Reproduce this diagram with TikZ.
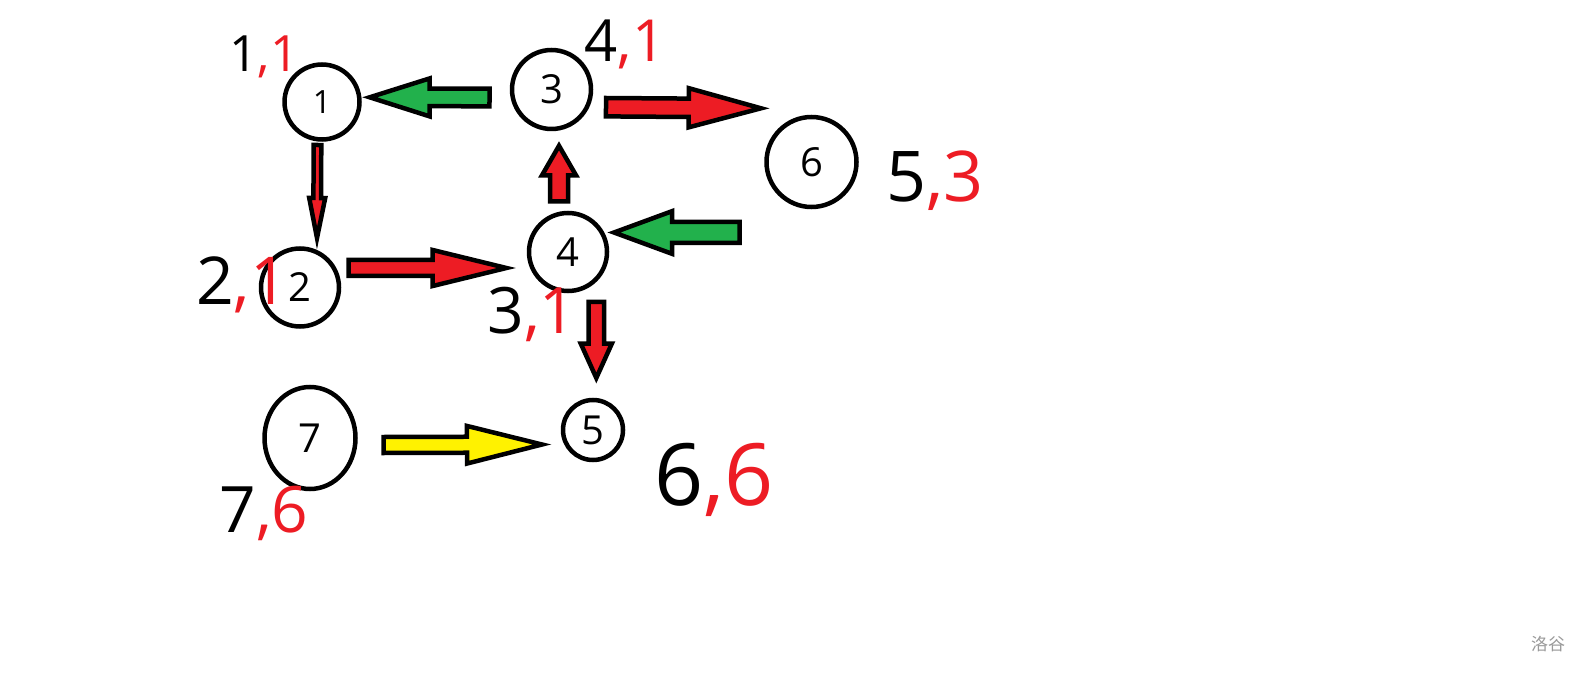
\documentclass[tikz,border=0pt]{standalone}
\usepackage{fontspec}
\setmainfont{Open Sans}
\newfontfamily\cjk{Noto Sans CJK SC}
\usetikzlibrary{calc,shapes.geometric}
\definecolor{pred}{HTML}{ED1C24}
\definecolor{pgreen}{HTML}{22B14C}
\definecolor{pyellow}{HTML}{FFF200}
\definecolor{wmgray}{HTML}{9A9A9A}
% #1 tail, #2 tip, #3 half shaft width, #4 half head width, #5 head length, #6 fill
\newcommand\blockarr[6]{%
  \path let \p1=(#1), \p2=(#2), \n1={atan2(\y2-\y1,\x2-\x1)}, \n2={veclen(\x2-\x1,\y2-\y1)} in
    \pgfextra{\xdef\baang{\n1}\xdef\balen{\n2}};
  \draw[blockarrow, fill=#6, shift={(#1)}, rotate=\baang]
    (0,-#3) -- ({\balen-#5},-#3) -- ({\balen-#5},-#4) -- (\balen,0)
    -- ({\balen-#5},#4) -- ({\balen-#5},#3) -- (0,#3) -- cycle;
}
\newcommand\lowdigit[2]{\raisebox{-#1pt}{#2}}
\begin{document}
\begin{tikzpicture}[x=1pt,y=1pt,
  vtx/.style={circle, draw, line width=4.5pt, inner sep=0pt, outer sep=0pt, font=\fontsize{40}{40}\selectfont},
  blockarrow/.style={draw=black, line width=4.5pt, line join=miter},
  hand/.style={anchor=base, inner sep=0pt, font=\fontsize{#1}{#1}\selectfont},
]
\fill[white] (0,0) rectangle (1594,-684);
\useasboundingbox (0,0) rectangle (1594,-684);

% vertices
\node[vtx, minimum size=75, font=\fontsize{32}{32}\selectfont] (n1) at (322,-102) {\lowdigit{7}{1}};
\node[vtx, minimum size=79] (n3) at (551.5,-89.5) {\lowdigit{0}{3}};
\node[vtx, minimum size=78] (n2) at (300,-287.5) {\lowdigit{3}{2}};
\node[vtx, minimum size=78] (n4) at (568,-252) {\lowdigit{3}{4}};
\node[vtx, minimum size=90] (n6) at (811.5,-162) {\lowdigit{4}{6}};
\node[vtx, ellipse, minimum width=91, minimum height=102] (n7) at (310,-438) {\lowdigit{3}{7}};
\node[vtx, minimum size=60] (n5) at (593,-430) {\lowdigit{2}{5}};
\coordinate (g4) at (739.7,-232.5);

% block arrows
\blockarr{$(n3)+(-62,-8)$}{$(n1)+(47.7,4.7)$}{8.8}{19}{60}{pgreen}
\blockarr{$(n1)+(-4.5,-43)$}{$(n2)+(17,49.5)$}{3.8}{8}{40}{pred}
\blockarr{$(n2)+(48.7,19.5)$}{$(n4)+(-61.6,-16)$}{8}{18}{73.7}{pred}
\blockarr{$(n4)+(-9,50.7)$}{$(n3)+(7.5,-56.3)$}{9}{17}{29.5}{pred}
\blockarr{$(n3)+(54.5,-17.7)$}{$(n6)+(-50.5,53.7)$}{9.2}{19.6}{72.3}{pred}
\blockarr{g4}{$(n4)+(46,19.5)$}{10.5}{21.3}{58}{pgreen}
\blockarr{$(n4)+(28.3,-50)$}{$(n5)+(3.3,52)$}{7.7}{15.5}{34.3}{pred}
\blockarr{$(n7)+(73.7,-7)$}{$(n5)+(-51,-14.5)$}{8}{18.8}{75}{pyellow}

% handwritten labels
\node[hand=50] (l1) at (264,-72) {1\textcolor{pred}{,1}};
\node[hand=58] (l3) at (625,-62) {4\textcolor{pred}{,1}};
\node[hand=70] (l6) at (935,-202) {5\textcolor{pred}{,3}};
\node[hand=66] (l2) at (242,-305) {2\textcolor{pred}{,1}};
\node[hand=64] (l4) at (532,-334) {3\textcolor{pred}{,1}};
\node[hand=64] (l7) at (264,-532) {7\textcolor{pred}{,6}};
\node[hand=86] (l5) at (714,-505) {6\textcolor{pred}{,6}};

% watermark
\node[text=wmgray, font=\cjk\fontsize{17}{17}\selectfont] (wm) at (1548,-644) {洛谷};
\end{tikzpicture}
\end{document}
